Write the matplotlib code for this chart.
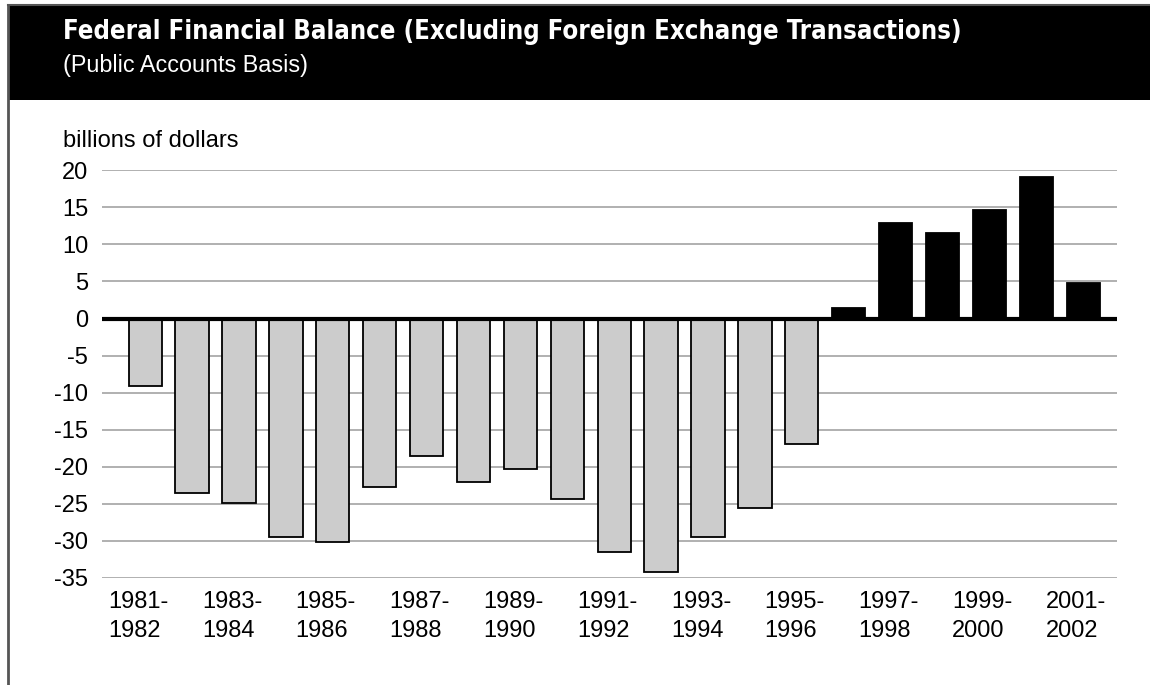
import matplotlib
matplotlib.use("Agg")
import numpy as np
import matplotlib.pyplot as plt
import matplotlib.transforms as mtransforms
from matplotlib import font_manager as fm
from matplotlib.patches import Rectangle
from matplotlib.lines import Line2D

# data (billions of dollars)
start_years = list(range(1981, 2002))
fiscal_years = [f"{y}-\n{y + 1}" for y in start_years]
balance = [-9.1, -23.5, -24.9, -29.5, -30.2, -22.7, -18.6, -22.1, -20.3, -24.3,
           -31.5, -34.2, -29.5, -25.6, -16.9, 1.4, 12.9, 11.6, 14.7, 19.1, 4.8]
y_ticks = [20, 15, 10, 5, 0, -5, -10, -15, -20, -25, -30, -35]

title = "Federal Financial Balance (Excluding Foreign Exchange Transactions)"
subtitle = "(Public Accounts Basis)"
unit_label = "billions of dollars"

W, H = 1150, 685
body_font = ["Liberation Sans", "DejaVu Sans"]


def pick_title_font():
    # look for a condensed bold face, fall back to a plain bold sans
    tries = [("Liberation Sans Narrow", "normal"), ("DejaVu Sans", "condensed"),
             ("Roboto Condensed", "normal")]
    for fam, stretch in tries:
        try:
            path = fm.findfont(fm.FontProperties(family=fam, weight="bold", stretch=stretch),
                               fallback_to_default=False)
        except Exception:
            continue
        if "Narrow" in path or "Condensed" in path:
            return fam, stretch
    return "Liberation Sans", "normal"


fig = plt.figure(figsize=(W / 100, H / 100), dpi=100)
fig.patch.set_facecolor("white")


def px(x, y):
    return x / W, 1 - y / H


# header band and frame
x0, y0 = px(8, 5)
x1, y1 = px(W, 100)
fig.patches.append(Rectangle((x0, y1), x1 - x0, y0 - y1, transform=fig.transFigure,
                             facecolor="black", edgecolor="none", zorder=0))
fig.lines.append(Line2D([x0, 1], [y0, y0], transform=fig.transFigure, color="#555555", lw=1.5))
fig.lines.append(Line2D([x0, x0], [y0, 0], transform=fig.transFigure, color="#555555", lw=2))

tfam, tstretch = pick_title_font()
tx, ty = px(63, 39)
t = fig.text(tx, ty, title, color="white", fontsize=20, fontweight="bold",
             family=[tfam, "DejaVu Sans"], fontstretch=tstretch, va="baseline", ha="left")
fig.canvas.draw()
w = t.get_window_extent().width
t.set_fontsize(20 * 902 / w)

sx, sy = px(63, 72)
fig.text(sx, sy, subtitle, color="white", fontsize=16.8, family=body_font, va="baseline", ha="left")

ux, uy = px(63, 147)
fig.text(ux, uy, unit_label, color="black", fontsize=17, family=body_font, va="baseline", ha="left")

# plot area
left, top = px(102, 170.3)
right, bottom = px(1117, 578)
ax = fig.add_axes([left, bottom, right - left, top - bottom])

x = np.arange(len(balance))
colors = ["black" if v > 0 else "#cccccc" for v in balance]
ax.bar(x, balance, width=0.71, color=colors, edgecolor="black", linewidth=1.3, zorder=3)

ax.set_ylim(-35, 20)
ax.set_xlim(-0.92, len(balance) - 1 + 0.72)
ax.set_yticks(y_ticks)
ax.set_yticklabels([str(v) for v in y_ticks], fontsize=17, family=body_font)
ax.set_xticks(x[::2])
ax.set_xticklabels(fiscal_years[::2], fontsize=17, family=body_font, linespacing=1.45,
                   multialignment="left")
ax.tick_params(axis="both", length=0)
ax.tick_params(axis="y", pad=10)
ax.tick_params(axis="x", pad=9)
offset = mtransforms.ScaledTranslation(-7 / 100, 0, fig.dpi_scale_trans)
for lab in ax.get_xticklabels():
    lab.set_transform(lab.get_transform() + offset)

ax.grid(axis="y", color="#aaaaaa", linewidth=1.3, zorder=0)
ax.axhline(0, color="black", linewidth=3, zorder=4)
for s in ax.spines.values():
    s.set_visible(False)

fig.savefig("out.png", dpi=100)
